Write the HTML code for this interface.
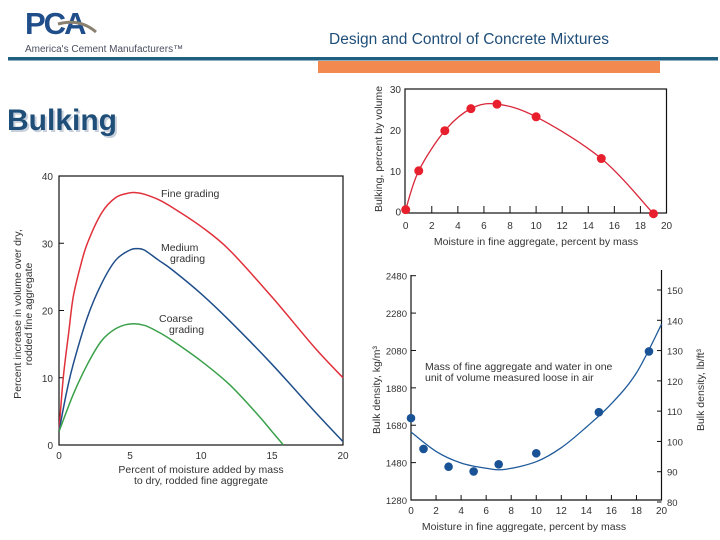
<!DOCTYPE html>
<html><head><meta charset="utf-8"><style>
html,body{margin:0;padding:0;background:#fff;}
#root{position:relative;width:720px;height:540px;overflow:hidden;font-family:"Liberation Sans",sans-serif;}
</style></head><body>
<div id="root">
<svg id="svg" width="720" height="540" xmlns="http://www.w3.org/2000/svg">
  <g>
    <text x="25" y="34" font-family="Liberation Sans Narrow, Liberation Sans, sans-serif" font-weight="bold" font-size="31" fill="#1f4e8a" letter-spacing="-2">PCA</text>
    <path d="M58 24 Q80 18 96 32" stroke="#8a8070" stroke-width="3" fill="none"/>
    <text x="25" y="52" font-size="10" fill="#4a5060" font-family="Liberation Sans Narrow, Liberation Sans, sans-serif">America's Cement Manufacturers™</text>
  </g>
  <text x="469" y="44" text-anchor="middle" font-size="15.5" fill="#1f4e79">Design and Control of Concrete Mixtures</text>
  <rect x="8" y="57" width="710" height="3.5" fill="#1f5f80"/>
  <rect x="318" y="61" width="342" height="12" fill="#f28a50"/>
  <text x="9" y="132" font-size="30" font-weight="bold" fill="#c8d0dc">Bulking</text>
  <text x="7" y="130" font-size="30" font-weight="bold" fill="#1f4e79">Bulking</text>
</svg>
</div>
<script>
// Chart 1: bulking vs moisture for gradings
const c1Ticks=[0,5,10,15,20];
const c1YTicks=[0,10,20,30,40];
const fineX=[0,0.3,0.7,1,1.5,2,3,4,5,5.5,6,7,8,10,12,15,18,20];
const fineY=[2,10,17,22,26.5,30,34.5,36.8,37.5,37.5,37.3,36.5,35.3,32.5,29,22,14.5,10];
const medX=[0,0.5,1,2,3,4,5,5.5,6,7,8,10,12,15,18,20];
const medY=[2,7.5,12,19,24,27.5,29,29.2,29,27.5,26,22.5,18.5,12,5,0.5];
const coarseX=[0,1,2,3,4,5,6,7,8,10,12,14,15,15.8];
const coarseY=[2,7.5,12,15.5,17.3,18,17.8,16.8,15.5,12.5,9,4.5,2,0];
// Chart 2: bulking points
const c2X=[0,1,3,5,7,10,15,19];
const c2Y=[0.5,10,19.8,25.2,26.3,23.2,13,-0.5];
const c2XTicks=[0,2,4,6,8,10,12,14,16,18,20];
const c2YTicks=[0,10,20,30];
// Chart 3: bulk density
const c3X=[0,1,3,5,7,10,15,19];
const c3Y=[1718,1553,1458,1433,1471,1530,1750,2075];
const c3FitX=[0,2,4,6,7.5,10,12,14,16,18,20];
const c3FitY=[1644,1540,1478,1450,1444,1485,1560,1670,1795,1960,2220];
const c3XTicks=[0,2,4,6,8,10,12,14,16,18,20];
const c3YTicks=[1280,1480,1680,1880,2080,2280,2480];
const c3Y2Ticks=[80,90,100,110,120,130,140,150];

const NS="http://www.w3.org/2000/svg";
const svg=document.getElementById('svg');
function mk(tag,attrs,parent,txt){const e=document.createElementNS(NS,tag);for(const k in attrs)e.setAttribute(k,attrs[k]);if(txt!==undefined)e.textContent=txt;(parent||svg).appendChild(e);return e;}
function lin(d0,d1,r0,r1){return v=>r0+(v-d0)*(r1-r0)/(d1-d0);}
function smooth(pts){let d=`M${pts[0][0]},${pts[0][1]}`;for(let i=0;i<pts.length-1;i++){const p0=pts[Math.max(0,i-1)],p1=pts[i],p2=pts[i+1],p3=pts[Math.min(pts.length-1,i+2)];const c1x=p1[0]+(p2[0]-p0[0])/6,c1y=p1[1]+(p2[1]-p0[1])/6,c2x=p2[0]-(p3[0]-p1[0])/6,c2y=p2[1]-(p3[1]-p1[1])/6;d+=` C${c1x},${c1y} ${c2x},${c2y} ${p2[0]},${p2[1]}`;}return d;}
const TXT="#333";

// ---- Chart 1
{
const g=mk('g',{});


const x=lin(0,20,59,343),y=lin(0,40,445,176);
const frame=mk('rect',{x:59,y:176,width:284,height:269,fill:'none',stroke:'#111','stroke-width':1.2},g);


c1Ticks.forEach(t=>{const l=mk('text',{x:x(t),y:459,'font-size':10,'text-anchor':'middle',fill:TXT},g,String(t));

});
c1YTicks.forEach(t=>{const l=mk('text',{x:53,y:y(t)+4,'font-size':10,'text-anchor':'end',fill:TXT},g,String(t));


const tk=mk('line',{x1:59,x2:64,y1:y(t),y2:y(t),stroke:'#111'},g);

});
[[fineX,fineY,'#e0303a','fine-grading-line'],[medX,medY,'#1f4e8a','medium-grading-line'],[coarseX,coarseY,'#3aa04a','coarse-grading-line']].forEach(s=>{
const p=mk('path',{d:smooth(s[0].map((v,i)=>[x(v),y(s[1][i])])),fill:'none',stroke:s[2],'stroke-width':1.5},g);

});
const lab=[["Fine grading",161,197],["Medium",161,251],["grading",170,262],["Coarse",159,322],["grading",169,333]];
lab.forEach(a=>{const t=mk('text',{x:a[1],y:a[2],'font-size':10.5,fill:TXT},g,a[0]);

});
const xt1=mk('text',{x:201,y:473,'font-size':10.5,'text-anchor':'middle',fill:TXT},g,'Percent of moisture added by mass');


const xt2=mk('text',{x:201,y:484,'font-size':10.5,'text-anchor':'middle',fill:TXT},g,'to dry, rodded fine aggregate');


const yt=mk('text',{x:0,y:0,'font-size':10.5,'text-anchor':'middle',fill:TXT,transform:'translate(21,314) rotate(-90)'},g);


mk('tspan',{x:0,dy:0},yt,'Percent increase in volume over dry,');
mk('tspan',{x:0,dy:11},yt,'rodded fine aggregate');
}

// ---- Chart 2
{
const g=mk('g',{});


const x=lin(0,20,405.7,666.5),y=lin(0,30,211.7,89);
const frame=mk('rect',{x:405,y:89,width:261.5,height:124,fill:'none',stroke:'#111','stroke-width':1.2},g);


c2XTicks.forEach(t=>{const l=mk('text',{x:x(t),y:229,'font-size':10,'text-anchor':'middle',fill:TXT},g,String(t));


const tk=mk('line',{x1:x(t),x2:x(t),y1:206,y2:213,stroke:'#111'},g);

});
c2YTicks.forEach(t=>{const l=mk('text',{x:401,y:y(t)+4,'font-size':10,'text-anchor':'end',fill:TXT},g,String(t));

});
const p=mk('path',{d:smooth(c2X.map((v,i)=>[x(v),y(c2Y[i])])),fill:'none',stroke:'#d8283a','stroke-width':1.3},g);


c2X.forEach((v,i)=>{const c=mk('circle',{cx:x(v),cy:y(c2Y[i]),r:4.5,fill:'#e8202e'},g);

});
const xt=mk('text',{x:536,y:245,'font-size':10.5,'text-anchor':'middle',fill:TXT},g,'Moisture in fine aggregate, percent by mass');


const yt=mk('text',{x:0,y:0,'font-size':10.5,'text-anchor':'middle',fill:TXT,transform:'translate(382,149) rotate(-90)'},g,'Bulking, percent by volume');


}

// ---- Chart 3
{
const g=mk('g',{});


const x=lin(0,20,411,661.5),y=lin(1280,2480,500,275.7),y2=lin(80,150,502,290);
const ax=mk('path',{d:'M411,275 L411,500 L661.5,500 L661.5,270',fill:'none',stroke:'#111','stroke-width':1.2},g);


c3XTicks.forEach(t=>{const l=mk('text',{x:x(t),y:514,'font-size':10,'text-anchor':'middle',fill:TXT},g,String(t));


const tk=mk('line',{x1:x(t),x2:x(t),y1:495,y2:500,stroke:'#111'},g);

});
c3YTicks.forEach(t=>{const l=mk('text',{x:407,y:y(t)+4,'font-size':9.5,'text-anchor':'end',fill:TXT},g,String(t));


const tk=mk('line',{x1:411,x2:416,y1:y(t),y2:y(t),stroke:'#111'},g);

});
c3Y2Ticks.forEach(t=>{const l=mk('text',{x:667,y:y2(t)+4,'font-size':9.5,fill:TXT},g,String(t));


const tk=mk('line',{x1:657,x2:661.5,y1:y2(t),y2:y2(t),stroke:'#111'},g);

});
const p=mk('path',{d:smooth(c3FitX.map((v,i)=>[x(v),y(c3FitY[i])])),fill:'none',stroke:'#1f5a9a','stroke-width':1.3},g);


c3X.forEach((v,i)=>{const c=mk('circle',{cx:x(v),cy:y(c3Y[i]),r:4.3,fill:'#1a5296'},g);

});
const a1=mk('text',{x:425,y:370,'font-size':10.5,fill:TXT},g,'Mass of fine aggregate and water in one');


const a2=mk('text',{x:425,y:381,'font-size':10.5,fill:TXT},g,'unit of volume measured loose in air');


const xt=mk('text',{x:524,y:530,'font-size':10.5,'text-anchor':'middle',fill:TXT},g,'Moisture in fine aggregate, percent by mass');


const yt=mk('text',{x:0,y:0,'font-size':10.5,'text-anchor':'middle',fill:TXT,transform:'translate(380,390) rotate(-90)'},g,'Bulk density, kg/m³');


const yt2=mk('text',{x:0,y:0,'font-size':10.5,'text-anchor':'middle',fill:TXT,transform:'translate(704,390) rotate(-90)'},g,'Bulk density, lb/ft³');


}
</script>
</body></html>
